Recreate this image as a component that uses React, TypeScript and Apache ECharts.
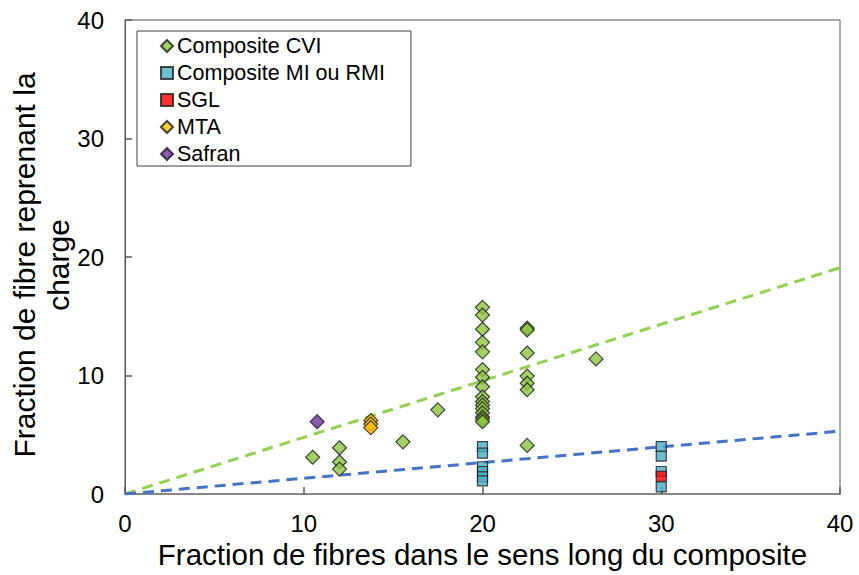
import React, { useEffect, useRef } from "react";
import * as echarts from "echarts";

const xTicks = [0, 10, 20, 30, 40];
const yTicks = [0, 10, 20, 30, 40];

const cviData: number[][] = [
  [10.5, 3.1], [12.0, 3.9], [12.0, 2.7], [12.0, 2.1], [15.55, 4.4], [17.5, 7.1],
  [20, 15.75], [20, 15.1], [20, 13.9], [20, 12.8], [20, 12.0], [20, 10.5], [20, 9.85],
  [20, 9.05], [20, 8.2], [20, 7.8], [20, 7.5], [20, 7.2], [20, 6.85], [20, 6.5], [20, 6.3], [20, 6.1],
  [22.5, 14.0], [22.5, 13.85], [22.5, 11.9], [22.5, 9.95], [22.5, 9.35], [22.5, 8.8], [22.5, 4.1],
  [26.35, 11.4],
];
const miData: number[][] = [
  [20, 4.0], [20, 3.45], [20, 2.3], [20, 1.9], [20, 1.45], [20, 1.1],
  [30, 4.0], [30, 3.2], [30, 1.9], [30, 0.6],
];
const sglData: number[][] = [[30, 1.5]];
const mtaData: number[][] = [[13.75, 6.2], [13.75, 5.9], [13.75, 5.6]];
const safranData: number[][] = [[10.75, 6.1]];
const trendCvi: number[][] = [[0, 0], [40, 19.1]];
const trendMi: number[][] = [[0, 0], [40, 5.3]];

const seriesNames = ["Composite CVI", "Composite MI ou RMI", "SGL", "MTA", "Safran"];

export default function App() {
  const ref = useRef<HTMLDivElement>(null);
  useEffect(() => {
    if (!ref.current) return;
    const chart = echarts.init(ref.current, null, { renderer: "svg" });
    const font = "Liberation Sans";
    const border = { borderColor: "#1a1a1a", borderWidth: 1.2 };
    chart.setOption({
      animation: false,
      textStyle: { fontFamily: font },
      grid: {
        left: 125, right: 19, top: 20, bottom: 81,
        show: true, borderColor: "#595959", borderWidth: 1, backgroundColor: "transparent",
      },
      legend: {
        data: [
          { name: seriesNames[0], icon: "diamond" },
          { name: seriesNames[1], icon: "rect" },
          { name: seriesNames[2], icon: "rect" },
          { name: seriesNames[3], icon: "diamond" },
          { name: seriesNames[4], icon: "diamond" },
        ],
        orient: "vertical",
        left: 137, top: 31,
        padding: [4, 26, 1, 23],
        itemGap: 5,
        itemWidth: 12, itemHeight: 12,
        borderColor: "#404040", borderWidth: 1,
        backgroundColor: "#fff",
        textStyle: { fontFamily: font, fontSize: 21.5, color: "#000", padding: [0, 0, 0, -1] },
      },
      xAxis: {
        type: "value", min: 0, max: 40, interval: 10,
        name: "Fraction de fibres dans le sens long du composite",
        nameLocation: "middle", nameGap: 45,
        nameTextStyle: { fontFamily: font, fontSize: 29.5, color: "#000" },
        axisLine: { show: true, onZero: false, lineStyle: { color: "#868686", width: 2 } },
        axisTick: { show: true, inside: true, length: 7, lineStyle: { color: "#595959", width: 1.5 } },
        axisLabel: { fontFamily: font, fontSize: 24, color: "#000", margin: 17,
          formatter: (v: number) => (xTicks.includes(v) ? String(v) : "") },
        splitLine: { show: false },
      },
      yAxis: {
        type: "value", min: 0, max: 40, interval: 10,
        axisLine: { show: true, onZero: false, lineStyle: { color: "#595959", width: 1 } },
        axisTick: { show: true, inside: true, length: 7, lineStyle: { color: "#595959", width: 1.5 } },
        axisLabel: { fontFamily: font, fontSize: 24, color: "#000", margin: 21,
          formatter: (v: number) => (yTicks.includes(v) ? String(v) : "") },
        splitLine: { show: false },
      },
      graphic: [
        {
          type: "text",
          x: 41, y: 265,
          rotation: Math.PI / 2,
          style: {
            text: "Fraction de fibre reprenant la\ncharge",
            fontFamily: font, fontSize: 30, fill: "#000",
            align: "center", verticalAlign: "middle", lineHeight: 34,
          },
        },
      ],
      series: [
        {
          name: "trendCvi", type: "line", data: trendCvi, symbol: "none", z: 1,
          lineStyle: { color: "#92d050", width: 3, type: [11, 7] }, silent: true,
        },
        {
          name: "trendMi", type: "line", data: trendMi, symbol: "none", z: 1,
          lineStyle: { color: "#4472c4", width: 3, type: [11, 7] }, silent: true,
        },
        {
          name: seriesNames[0], type: "scatter", data: cviData, symbol: "diamond", symbolSize: 14, z: 3,
          itemStyle: { color: "#8cc63f", ...border },
        },
        {
          name: seriesNames[1], type: "scatter", data: miData, symbol: "rect", symbolSize: [10, 10], z: 3,
          itemStyle: { color: "#4bacc6", ...border },
        },
        {
          name: seriesNames[2], type: "scatter", data: sglData, symbol: "rect", symbolSize: [10, 10], z: 3,
          itemStyle: { color: "#ff0000", ...border },
        },
        {
          name: seriesNames[3], type: "scatter", data: mtaData, symbol: "diamond", symbolSize: 14, z: 3,
          itemStyle: { color: "#ffc000", ...border },
        },
        {
          name: seriesNames[4], type: "scatter", data: safranData, symbol: "diamond", symbolSize: 14, z: 3,
          itemStyle: { color: "#7030a0", ...border },
        },
      ],
    });
    return () => chart.dispose();
  }, []);
  return <div ref={ref} style={{ width: 859, height: 575, position: "absolute", left: 0, top: 0, background: "#fff" }} />;
}
